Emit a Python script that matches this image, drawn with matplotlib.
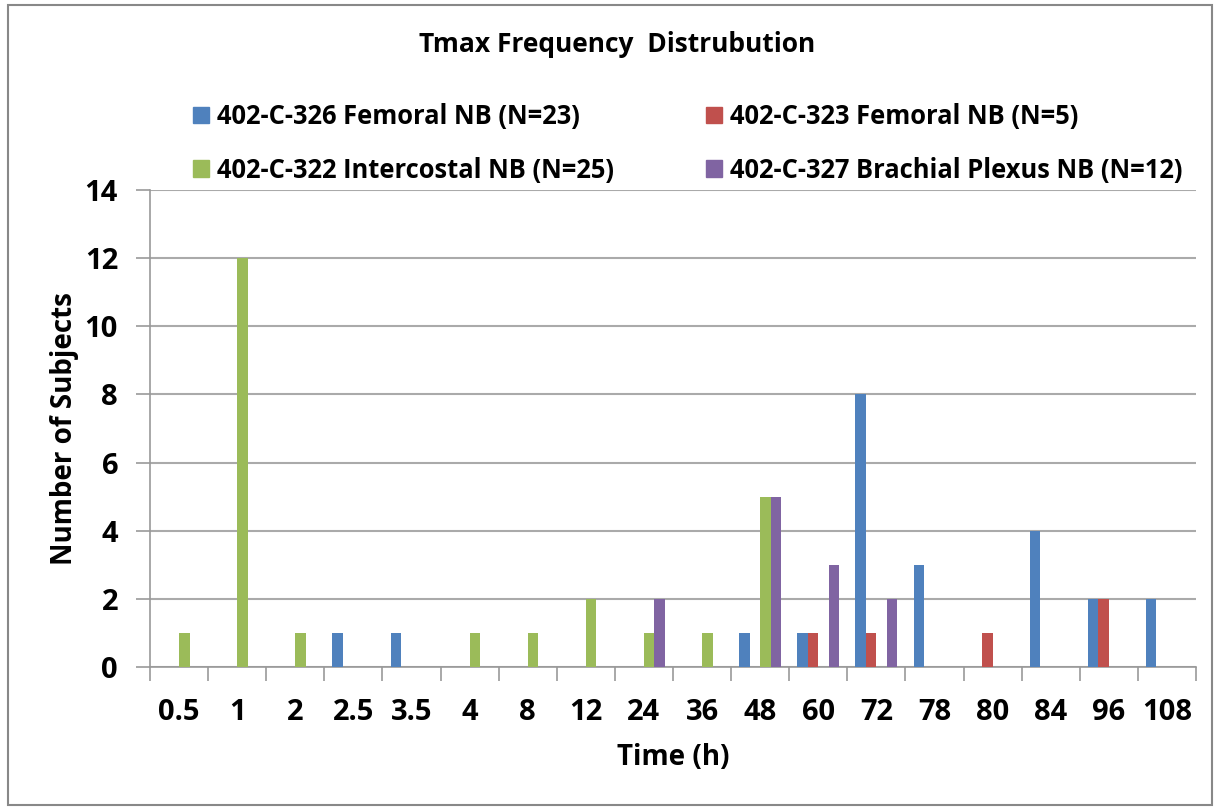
import numpy as np
import matplotlib.pyplot as plt
from matplotlib.patches import Rectangle, Patch

plt.rcParams['font.family'] = ['Open Sans', 'DejaVu Sans']
plt.rcParams['font.weight'] = 'bold'

# categories (time in h)
times = ["0.5", "1", "2", "2.5", "3.5", "4", "8", "12", "24", "36",
         "48", "60", "72", "78", "80", "84", "96", "108"]

# number of subjects per study (nan = no bar)
n = np.nan
s326 = [n, n, n, 1, 1, n, n, n, n, n, 1, 1, 8, 3, n, 4, 2, 2]
s323 = [n, n, n, n, n, n, n, n, n, n, n, 1, 1, n, 1, n, 2, n]
s322 = [1, 12, 1, n, n, 1, 1, 2, 1, 1, 5, n, n, n, n, n, n, n]
s327 = [n, n, n, n, n, n, n, n, 2, n, 5, 3, 2, n, n, n, n, n]

labels = ["402-C-326 Femoral NB (N=23)", "402-C-323 Femoral NB (N=5)",
          "402-C-322 Intercostal NB (N=25)", "402-C-327 Brachial Plexus NB (N=12)"]
colors = ["#4F81BD", "#C0504D", "#9BBB59", "#8064A2"]
series = [s326, s323, s322, s327]

fig = plt.figure(figsize=(12.15, 8.09), dpi=100)
ax = fig.add_axes([150/1215, 1-667/809, (1196-150)/1215, (667-190)/809])

x = np.arange(len(times))
w = 0.18
for i, (vals, c) in enumerate(zip(series, colors)):
    ax.bar(x + (i - 1.5)*w, vals, width=w, color=c, zorder=3)

ax.set_xlim(-0.5, len(times) - 0.5)
ax.set_ylim(0, 14)
ax.set_yticks(range(0, 15, 2))
ax.set_xticks(x)
ax.set_xticklabels(times)
ax.set_xticks(np.arange(-0.5, len(times)), minor=True)
ax.tick_params(axis='x', which='major', length=0, pad=22, labelsize=21)
ax.tick_params(axis='x', which='minor', length=10, width=1.2, color='#999999')
ax.tick_params(axis='y', length=10, width=1.2, color='#999999', pad=13, labelsize=21)

ax.grid(axis='y', color='#AAAAAA', linewidth=1.5, zorder=0)
for sp in ['top', 'right']:
    ax.spines[sp].set_visible(False)
for sp in ['left', 'bottom']:
    ax.spines[sp].set_color('#999999')
    ax.spines[sp].set_linewidth(1.2)

ax.set_xlabel("Time (h)", fontsize=20, fontweight='bold', labelpad=12)
ax.set_ylabel("Number of Subjects", fontsize=20, fontweight='bold', labelpad=4)

fig.text(617/1215, 1-45/809, "Tmax Frequency  Distrubution", ha='center', va='center',
         fontsize=19, fontweight='bold')

handles = [Patch(color=c) for c in colors]
order = [0, 2, 1, 3]
fig.legend([handles[i] for i in order], [labels[i] for i in order], ncol=2,
           loc='upper left', bbox_to_anchor=(170/1215, 1-80/809), frameon=False,
           fontsize=18.4, handlelength=0.63, handleheight=0.63, handletextpad=0.3,
           columnspacing=3.6, labelspacing=1.05)

fig.patches.append(Rectangle((8/1215, 1-805/809), (1212-8)/1215, (805-5)/809,
                             transform=fig.transFigure, fill=False,
                             edgecolor='#888888', linewidth=1.5))

fig.savefig("out.png", dpi=100)
